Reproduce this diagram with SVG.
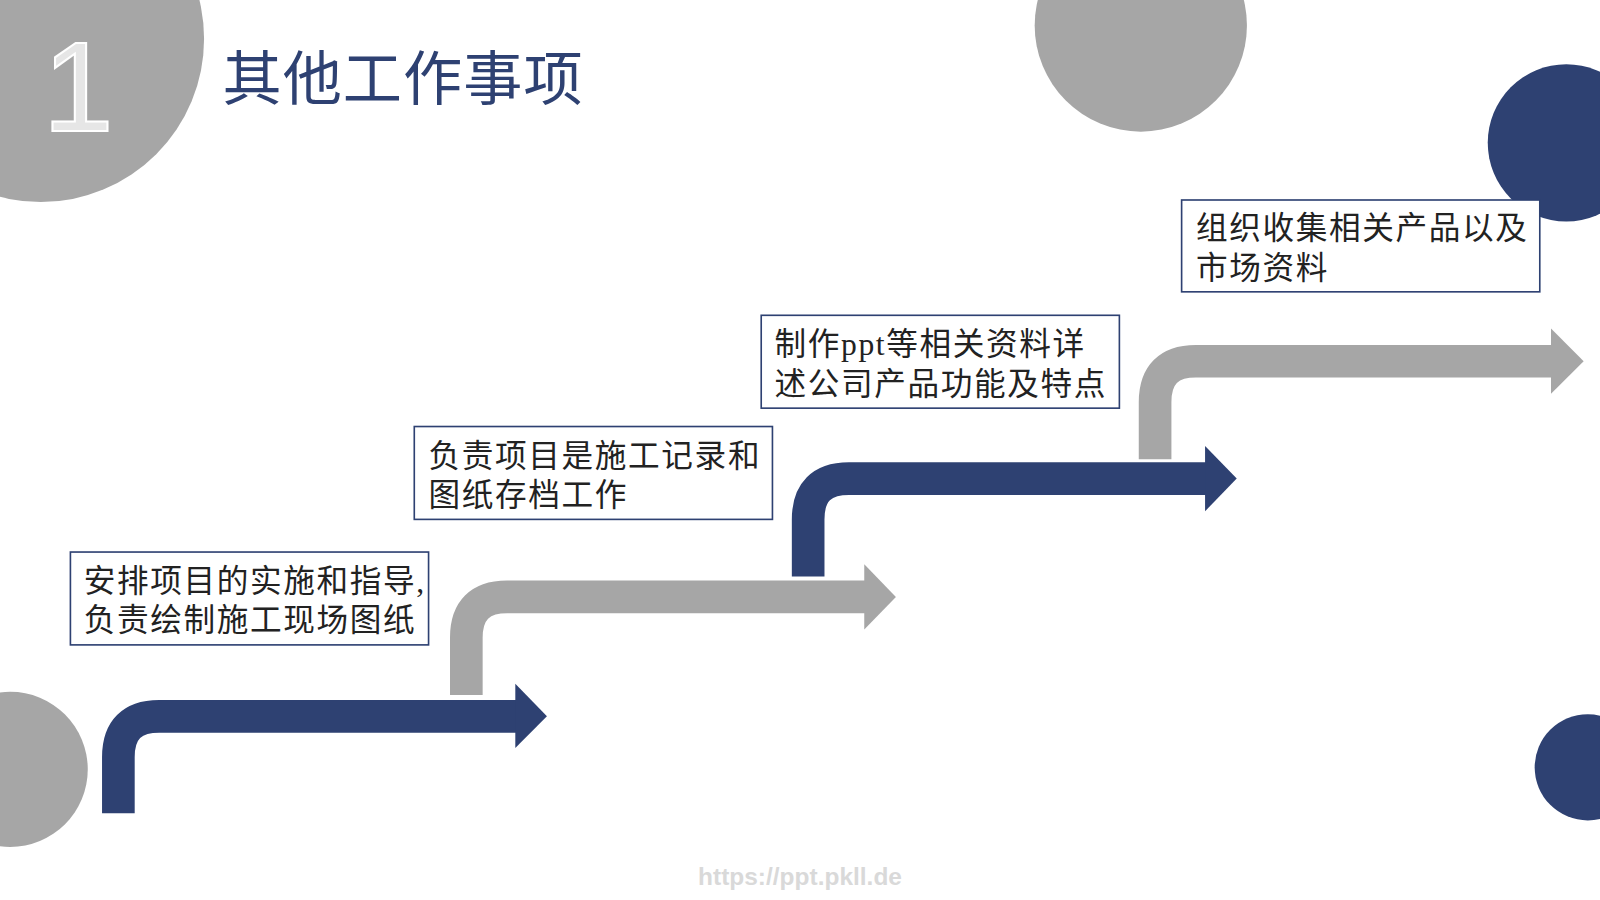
<svg xmlns="http://www.w3.org/2000/svg" width="1600" height="900" viewBox="0 0 1600 900">
<style>
.navy{fill:#2e4172}.gray{fill:#a6a6a6}
.an{fill:none;stroke:#2e4172;stroke-width:32}
.ag{fill:none;stroke:#a6a6a6;stroke-width:32}
.box{fill:#fff;stroke:#2e4172;stroke-width:1.6}
.t{font-family:"Liberation Serif","Noto Sans CJK SC",serif;font-size:31px;fill:#222;letter-spacing:1.6px}
</style>
<rect width="1600" height="900" fill="#fff"/>
<g transform="scale(1.0204)">
<g id="decor">
<circle class="gray" cx="40" cy="38" r="160"/>
<text x="42" y="128" font-family="Liberation Sans,sans-serif" font-size="125" fill="#e6e6e6" stroke="#fff" stroke-width="2">1</text>
<circle class="gray" cx="1118" cy="25" r="104"/>
<circle class="navy" cx="1535" cy="140" r="77"/>
<circle class="navy" cx="1556" cy="752" r="52"/>
<circle class="gray" cx="10" cy="754" r="76"/>
</g>
<text id="title" x="218" y="98" font-family="Noto Sans CJK SC,sans-serif" font-size="58" fill="#2e4172" letter-spacing="1">其他工作事项</text>
<g id="connectors">
<path class="an" d="M116 797V742Q116 702 156 702H506"/><polygon class="navy" points="505,670 536,702 505,733"/>
<path class="ag" d="M457 681V625Q457 585 497 585H848"/><polygon class="gray" points="847,553 878,585 847,617"/>
<path class="an" d="M792 565V509Q792 469 832 469H1182"/><polygon class="navy" points="1181,437 1212,469 1181,501"/>
<path class="ag" d="M1132 450V394Q1132 354 1172 354H1521"/><polygon class="gray" points="1520,322 1552,354 1520,386"/>
</g>
<g id="n1"><rect class="box" x="69" y="541" width="351" height="91"/><text class="t" x="82" y="580">安排项目的实施和指导,</text><text class="t" x="82" y="618">负责绘制施工现场图纸</text></g>
<g id="n2"><rect class="box" x="406" y="418" width="351" height="91"/><text class="t" x="420" y="458">负责项目是施工记录和</text><text class="t" x="420" y="496">图纸存档工作</text></g>
<g id="n3"><rect class="box" x="746" y="309" width="351" height="91"/><text class="t" x="759" y="348">制作ppt等相关资料详</text><text class="t" x="759" y="387">述公司产品功能及特点</text></g>
<g id="n4"><rect class="box" x="1158" y="196" width="351" height="90"/><text class="t" x="1172" y="234">组织收集相关产品以及</text><text class="t" x="1172" y="273">市场资料</text></g>
<text x="784" y="867" text-anchor="middle" font-family="Liberation Sans,sans-serif" font-size="24" font-weight="bold" fill="#d9d9d9">https://ppt.pkll.de</text>
</g>
</svg>
